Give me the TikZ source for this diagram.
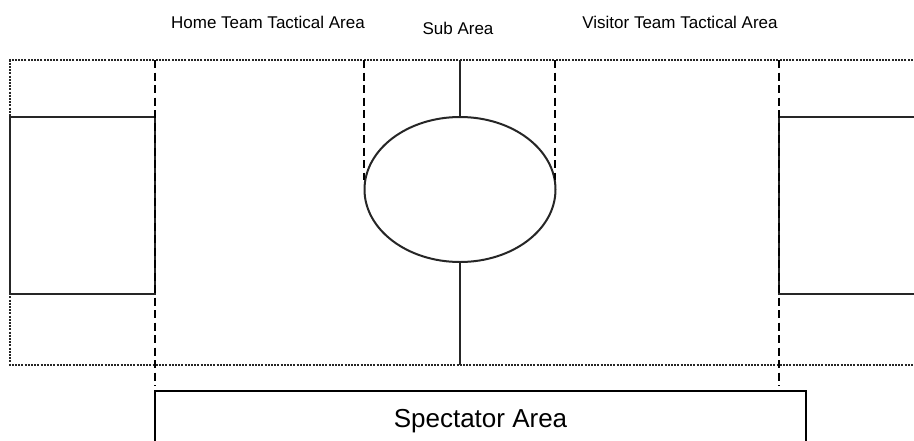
\documentclass[tikz,border=0pt]{standalone}
\usepackage{fontspec}
\setmainfont{Liberation Sans}
\usetikzlibrary{shapes.geometric}
\tikzset{
  field/.style={line width=2pt, dash pattern=on 2pt off 1.2pt, black!85},
  solidline/.style={line width=2pt, black!85},
  tactical/.style={line width=2.3pt, dash pattern=on 8pt off 4.5pt, black},
  label/.style={font=\fontsize{17}{20}\selectfont, inner sep=0pt, anchor=base},
}
\begin{document}
\begin{tikzpicture}[x=1pt,y=-1pt]
\clip (0,0) rectangle (914,440);
\fill[white] (0,0) rectangle (914,440);
% field border (dotted)
\coordinate (tl) at (10,60);
\coordinate (tr) at (916,60);
\coordinate (bl) at (10,365);
\coordinate (br) at (916,365);
\draw[field] (tr) -- (tl) -- (bl) -- (br);
% goal areas
\draw[solidline] (10,117) -- (155,117) -- (155,294) -- (10,294) -- cycle;
\draw[solidline] (916,117) -- (779,117) -- (779,294) -- (916,294);
% centre circle and halfway line
\node[draw, ellipse, solidline, minimum width=191pt, minimum height=145pt, inner sep=0pt] (sub) at (460,189.5) {};
\coordinate (ctop) at (460,60);
\coordinate (cbot) at (460,365);
\draw[solidline] (ctop) -- (sub.north);
\draw[solidline] (sub.south) -- (cbot);
% tactical area lines
\coordinate (h1) at (155,60); \coordinate (h2) at (155,386);
\coordinate (v1) at (779,60); \coordinate (v2) at (779,386);
\coordinate (s1) at (364,60); \coordinate (s2) at (364,180);
\coordinate (s3) at (555,60); \coordinate (s4) at (555,180);
\draw[tactical] (h1) -- (h2);
\draw[tactical] (v1) -- (v2);
\draw[tactical] (s1) -- (s2);
\draw[tactical] (s3) -- (s4);
% spectator area
\draw[line width=2.3pt] (155,446) -- (155,391) -- (806,391) -- (806,446);
\node[font=\fontsize{26}{30}\selectfont, inner sep=0pt, anchor=base] (spec) at (480.5,427) {Spectator Area};
% labels
\node[label] (home) at (268,28) {Home Team Tactical Area};
\node[label] (subl) at (458,34) {Sub Area};
\node[label] (vis) at (680,28) {Visitor Team Tactical Area};
\end{tikzpicture}
\end{document}
